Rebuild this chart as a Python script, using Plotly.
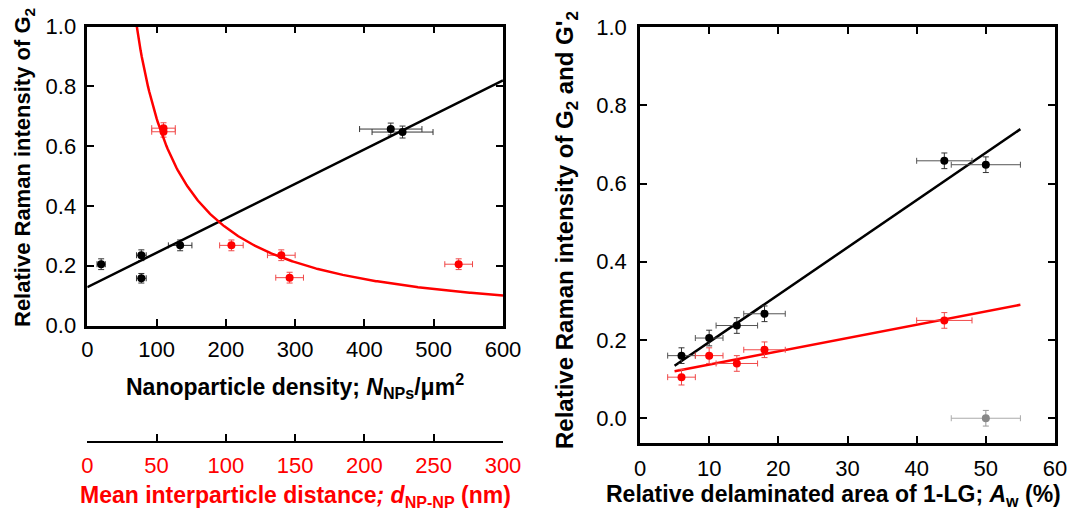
import numpy as np
import plotly.graph_objects as go

# ---------------- data: left panel ----------------
dens_black = [20, 78, 78, 134, 438, 455]            # NPs / um^2
int_black_left = [0.205, 0.235, 0.158, 0.268, 0.657, 0.647]
dens_black_xerr = [6, 7, 7, 17, 45, 44]
int_black_left_yerr = [0.018, 0.018, 0.016, 0.018, 0.02, 0.02]

dist_red = [55, 55, 104, 140, 146, 268]              # nm
int_red_left = [0.66, 0.648, 0.268, 0.235, 0.16, 0.205]
dist_red_xerr = [8.5, 8.5, 8.5, 10, 10, 10]
int_red_left_yerr = [0.018, 0.018, 0.018, 0.018, 0.018, 0.018]

# linear fit (black) and power-law fit (red)
lin_left_intercept = 0.128
lin_left_slope = 0.001153
pow_d0 = 35.6
pow_n = 1.08

# ---------------- data: right panel ----------------
aw_black = [6, 10, 14, 18, 44, 50]
int_g2 = [0.16, 0.205, 0.237, 0.267, 0.658, 0.648]
aw_black_xerr = [2, 2, 3, 3, 4, 5]
int_g2_yerr = [0.02, 0.02, 0.02, 0.02, 0.02, 0.02]

aw_red = [6, 10, 14, 18, 44]
int_g2p = [0.105, 0.16, 0.14, 0.175, 0.25]
aw_red_xerr = [2, 2, 3, 3, 4]
int_g2p_yerr = [0.02, 0.02, 0.02, 0.02, 0.02]

aw_gray = [50]
int_gray = [0.0]
aw_gray_xerr = [5]
int_gray_yerr = [0.02]

fit_right_x = [5, 55]
fit_right_black = [0.134, 0.739]
fit_right_red = [0.12, 0.29]

left_xticks = [0, 100, 200, 300, 400, 500, 600]
dist_ticks = [0, 50, 100, 150, 200, 250, 300]
right_xticks = [0, 10, 20, 30, 40, 50, 60]
yticks = [0.0, 0.2, 0.4, 0.6, 0.8, 1.0]

FONT = "Arial, Liberation Sans, sans-serif"
W, H = 1069, 513
RED = "#ff0000"
TICK_SIZE = 22
TITLE_SIZE = 23

fig = go.Figure()

# left: black density points
fig.add_trace(go.Scatter(
    x=dens_black, y=int_black_left, mode="markers",
    marker=dict(color="black", size=8),
    error_x=dict(type="data", array=dens_black_xerr, color="#333333", thickness=1, width=3),
    error_y=dict(type="data", array=int_black_left_yerr, color="#333333", thickness=1, width=3),
    xaxis="x", yaxis="y", showlegend=False))
xl = np.linspace(0, 600, 50)
fig.add_trace(go.Scatter(
    x=xl, y=lin_left_intercept + lin_left_slope * xl, mode="lines",
    line=dict(color="black", width=2.5), xaxis="x", yaxis="y", showlegend=False))

# left: red distance points on secondary axis
fig.add_trace(go.Scatter(
    x=dist_red, y=int_red_left, mode="markers",
    marker=dict(color=RED, size=8),
    error_x=dict(type="data", array=dist_red_xerr, color="#f04848", thickness=1, width=3),
    error_y=dict(type="data", array=int_red_left_yerr, color="#f04848", thickness=1, width=3),
    xaxis="x3", yaxis="y", showlegend=False))
dc = np.linspace(34, 300, 300)
fig.add_trace(go.Scatter(
    x=dc, y=(dc / pow_d0) ** (-pow_n), mode="lines",
    line=dict(color=RED, width=2.5), xaxis="x3", yaxis="y", showlegend=False))

# right panel
fig.add_trace(go.Scatter(
    x=fit_right_x, y=fit_right_black, mode="lines",
    line=dict(color="black", width=2.5), xaxis="x2", yaxis="y2", showlegend=False))
fig.add_trace(go.Scatter(
    x=fit_right_x, y=fit_right_red, mode="lines",
    line=dict(color=RED, width=2.5), xaxis="x2", yaxis="y2", showlegend=False))
fig.add_trace(go.Scatter(
    x=aw_black, y=int_g2, mode="markers",
    marker=dict(color="black", size=8),
    error_x=dict(type="data", array=aw_black_xerr, color="#555555", thickness=1, width=3),
    error_y=dict(type="data", array=int_g2_yerr, color="#333333", thickness=1, width=3),
    xaxis="x2", yaxis="y2", showlegend=False))
fig.add_trace(go.Scatter(
    x=aw_red, y=int_g2p, mode="markers",
    marker=dict(color=RED, size=8),
    error_x=dict(type="data", array=aw_red_xerr, color="#f04848", thickness=1, width=3),
    error_y=dict(type="data", array=int_g2p_yerr, color="#f04848", thickness=1, width=3),
    xaxis="x2", yaxis="y2", showlegend=False))
fig.add_trace(go.Scatter(
    x=aw_gray, y=int_gray, mode="markers",
    marker=dict(color="#888888", size=8),
    error_x=dict(type="data", array=aw_gray_xerr, color="#aaaaaa", thickness=1, width=3),
    error_y=dict(type="data", array=int_gray_yerr, color="#999999", thickness=1, width=3),
    xaxis="x2", yaxis="y2", showlegend=False))

def px(xp):
    return xp / W

def py(yp):
    return 1 - yp / H

left_dom = [px(87.3), px(503)]
right_dom = [px(640), px(1055)]

axis_common = dict(showline=True, linecolor="black", linewidth=2.5, mirror="ticks",
                   ticks="inside", ticklen=7, tickwidth=1.5, tickcolor="black",
                   showgrid=False, zeroline=False, automargin=False,
                   tickfont=dict(family=FONT, size=TICK_SIZE, color="black"))

fig.update_layout(
    width=W, height=H, autosize=False,
    margin=dict(l=0, r=0, t=0, b=0, autoexpand=False),
    paper_bgcolor="white", plot_bgcolor="white",
    font=dict(family=FONT, color="black"),
    xaxis=dict(domain=left_dom, anchor="y", range=[0, 600], tickvals=left_xticks,
               ticklabelstandoff=2, **axis_common),
    yaxis=dict(domain=[py(325.5), py(26.5)], anchor="x", range=[0, 1.0], tickvals=yticks,
               tickformat=".1f", ticklabelstandoff=4, **axis_common),
    xaxis2=dict(domain=right_dom, anchor="y2", range=[0, 60], tickvals=right_xticks,
                ticklabelstandoff=4, **axis_common),
    yaxis2=dict(domain=[py(442.5), py(27)], anchor="x2", range=[-0.062, 1.0], tickvals=yticks,
                tickformat=".1f", ticklabelstandoff=6, **axis_common),
    xaxis3=dict(domain=left_dom, anchor="free", overlaying="x", position=py(441.7), side="bottom",
                range=[0, 300], tickvals=dist_ticks, showline=True, linecolor="black",
                linewidth=2, ticks="inside", ticklen=7, tickwidth=1.5, tickcolor="black",
                showgrid=False, zeroline=False, ticklabelstandoff=4, automargin=False,
                tickfont=dict(family=FONT, size=TICK_SIZE, color=RED)),
)

title_font = dict(family=FONT, size=TITLE_SIZE, color="black")
annotations = [
    dict(text="<b>Relative Raman intensity of G<sub>2</sub></b>", x=px(24), y=py(168),
         textangle=-90, font=dict(family=FONT, size=22, color="black")),
    dict(text="<b>Nanoparticle density; <i>N</i><sub>NPs</sub>/\u03bcm<sup>2</sup></b>",
         x=px(295), y=py(386), font=title_font),
    dict(text="<b>Mean interparticle distance<i>; d</i><sub>NP-NP</sub> (nm)</b>",
         x=px(295), y=py(496), font=dict(family=FONT, size=TITLE_SIZE, color=RED)),
    dict(text="<b>Relative Raman intensity of G<sub>2</sub> and G'<sub>2</sub></b>",
         x=px(566), y=py(230), textangle=-90, font=dict(family=FONT, size=24, color="black")),
    dict(text="<b>Relative delaminated area of 1-LG; <i>A</i><sub>w</sub> (%)</b>",
         x=px(833), y=py(495), font=title_font),
]
for a in annotations:
    a.update(xref="paper", yref="paper", showarrow=False, xanchor="center", yanchor="middle")
fig.update_layout(annotations=annotations)

fig.write_html("out.html",
               config={"displayModeBar": False},
               post_script="document.body.style.margin='0';document.body.style.overflow='hidden';")
